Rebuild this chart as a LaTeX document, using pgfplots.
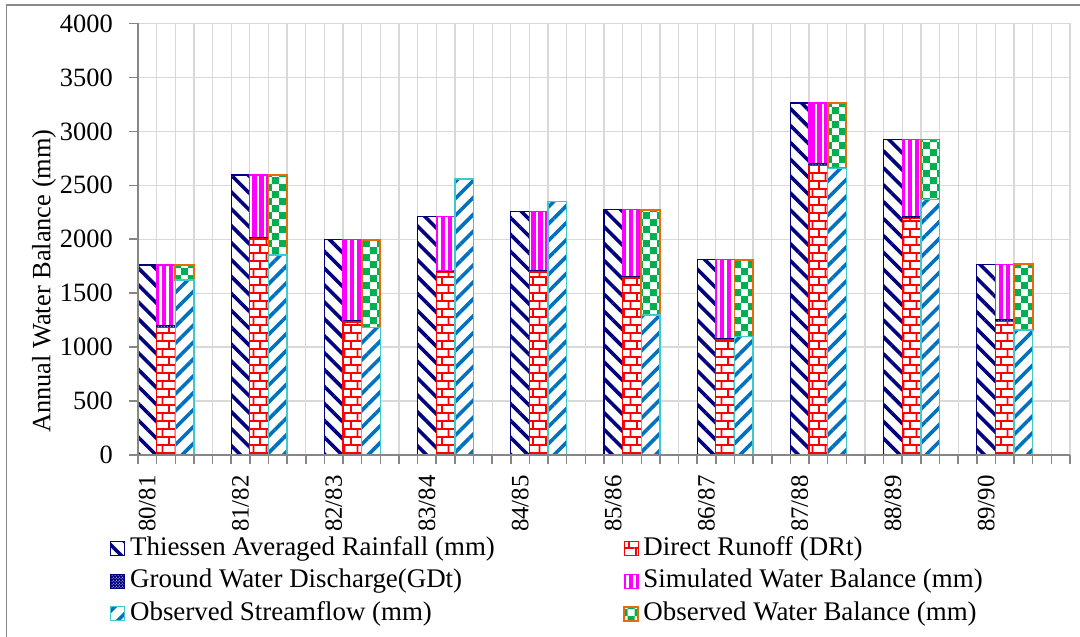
\documentclass[border=0pt]{standalone}
\usepackage{fontspec}
\setmainfont{Liberation Serif}
\usepackage{pgfplots}
\pgfplotsset{compat=1.18}
\usetikzlibrary{patterns,patterns.meta}

\definecolor{rainnavy}{RGB}{0,0,128}
\definecolor{drred}{RGB}{255,0,0}
\definecolor{swbmag}{RGB}{255,0,255}
\definecolor{obsblue}{RGB}{0,112,192}
\definecolor{obsturq}{RGB}{64,200,204}
\definecolor{owbgreen}{RGB}{0,176,80}
\definecolor{owborange}{RGB}{228,108,10}
\definecolor{gridgray}{RGB}{217,217,217}
\definecolor{axisgray}{RGB}{134,134,134}
\definecolor{bordergray}{RGB}{137,137,137}

\pgfdeclarepatternformonly{bigbricks}{\pgfqpoint{0pt}{0pt}}{\pgfqpoint{13pt}{16pt}}{\pgfqpoint{13pt}{16pt}}{%
  \pgfsetlinewidth{1.8pt}%
  \pgfpathmoveto{\pgfqpoint{0pt}{1pt}}\pgfpathlineto{\pgfqpoint{13pt}{1pt}}%
  \pgfpathmoveto{\pgfqpoint{0pt}{9pt}}\pgfpathlineto{\pgfqpoint{13pt}{9pt}}%
  \pgfpathmoveto{\pgfqpoint{1pt}{1pt}}\pgfpathlineto{\pgfqpoint{1pt}{9pt}}%
  \pgfpathmoveto{\pgfqpoint{7.5pt}{9pt}}\pgfpathlineto{\pgfqpoint{7.5pt}{16pt}}%
  \pgfusepath{stroke}}

\pgfdeclarepatternformonly{bigchecker}{\pgfqpoint{0pt}{0pt}}{\pgfqpoint{14pt}{14pt}}{\pgfqpoint{14pt}{14pt}}{%
  \pgfpathrectangle{\pgfqpoint{0pt}{0pt}}{\pgfqpoint{7pt}{7pt}}%
  \pgfpathrectangle{\pgfqpoint{7pt}{7pt}}{\pgfqpoint{7pt}{7pt}}%
  \pgfusepath{fill}}

\tikzset{
  rainsty/.style={draw=rainnavy, line width=1.3bp, preaction={fill=white},
    pattern={Lines[angle=-45,distance=12pt,line width=3.6pt]}, pattern color=rainnavy},
  drsty/.style={draw=drred, line width=1.3bp, preaction={fill=white},
    pattern=bigbricks, pattern color=drred},
  gdsty/.style={draw=rainnavy, line width=1bp, preaction={fill=rainnavy},
    pattern=crosshatch dots, pattern color=white},
  swbsty/.style={draw=swbmag, line width=1.3bp, preaction={fill=swbmag},
    pattern={Lines[angle=90,distance=7pt,line width=2.6pt]}, pattern color=white},
  obssty/.style={draw=obsturq, line width=1.3bp, preaction={fill=white},
    pattern={Lines[angle=45,distance=12pt,line width=3.6pt]}, pattern color=obsblue},
  owbsty/.style={draw=owborange, line width=1.8bp, preaction={fill=white},
    pattern=bigchecker, pattern color=owbgreen},
}

\pgfplotsset{
  base/.style={at={(138bp,182bp)}, anchor=south west, scale only axis,
    width=932bp, height=431.5bp, xmin=-0.5, xmax=49.5, ymin=0, ymax=4000},
}

\begin{document}
\begin{tikzpicture}
\path[use as bounding box] (0,0) rectangle (1080bp,637bp);
\draw[bordergray, line width=1.5bp] (6.5bp,-20bp) -- (6.5bp,632bp) -- (1100bp,632bp);

% grid, rainfall and legend
\begin{axis}[base,
  xtick={-0.5,0.5,...,49.5}, ytick={0,500,...,4000},
  xticklabel={\relax}, yticklabel={\relax},
  grid=major, grid style={gridgray, line width=1.3bp},
  axis line style={draw=none}, tick style={draw=none}, major tick length=0pt,
  legend columns=2, legend cell align=left,
  legend image code/.code={\draw[#1] (0bp,-7bp) rectangle (14bp,7bp);},
  legend style={at={(axis description cs:-0.0318,-0.1877)}, anchor=north west,
    draw=none, fill=none, inner sep=0pt,
    font=\fontsize{27}{31}\selectfont,
    nodes={inner sep=0pt, text height=19bp, text depth=6bp},
    column sep=4bp, row sep=7.5bp,
    /tikz/every even column/.append style={column sep=128bp}},
]
\addplot[ybar, bar width=1, bar shift=0pt, rainsty, forget plot] coordinates {
  (0,1761) (5,2595) (10,1996) (15,2212) (20,2255)
  (25,2274) (30,1810) (35,3262) (40,2925) (45,1767)};
\addlegendimage{rainsty}\addlegendentry{Thiessen Averaged Rainfall (mm)}
\addlegendimage{drsty}\addlegendentry{Direct Runoff (DRt)}
\addlegendimage{gdsty}\addlegendentry{Ground Water Discharge(GDt)}
\addlegendimage{swbsty}\addlegendentry{Simulated Water Balance (mm)}
\addlegendimage{obssty}\addlegendentry{Observed Streamflow (mm)}
\addlegendimage{owbsty}\addlegendentry{Observed Water Balance (mm)}
\end{axis}

% simulated stack
\begin{axis}[base, hide axis, ybar stacked, bar width=1]
\addplot[drsty] coordinates {
  (1,1182) (6,2003) (11,1232) (16,1690) (21,1695)
  (26,1640) (31,1068) (36,2685) (41,2195) (46,1238)};
\addplot[gdsty] coordinates {
  (1,15) (6,15) (11,15) (16,15) (21,15)
  (26,15) (31,15) (36,15) (41,15) (46,15)};
\addplot[swbsty] coordinates {
  (1,564) (6,577) (11,749) (16,507) (21,545)
  (26,619) (31,727) (36,562) (41,715) (46,514)};
\end{axis}

% observed stack
\begin{axis}[base, hide axis, ybar stacked, bar width=1]
\addplot[obssty] coordinates {
  (2,1622) (7,1853) (12,1180) (17,2558) (22,2348)
  (27,1297) (32,1097) (37,2657) (42,2369) (47,1158)};
\addplot[owbsty] coordinates {
  (2,139) (7,742) (12,816) (17,0) (22,0)
  (27,977) (32,713) (37,605) (42,556) (47,609)};
\end{axis}

% axis lines, ticks, labels
\begin{axis}[base,
  axis x line=bottom, axis y line=left,
  axis line style={-, draw=axisgray, line width=1.5bp},
  xtick={0,5,...,45},
  xticklabels={80/81,81/82,82/83,83/84,84/85,85/86,86/87,87/88,88/89,89/90},
  minor xtick={-0.5,0.5,...,49.5},
  ytick={0,500,...,4000}, minor ytick={0,500,...,4000},
  tick align=outside, major tick length=0pt, minor tick length=8.5bp,
  tick style={draw=axisgray, line width=1.5bp},
  tick label style={font=\fontsize{26.5}{30}\selectfont},
  xticklabel style={yshift=-20bp, rotate=90, anchor=east, inner sep=0pt,
    font=\fontsize{25}{30}\selectfont},
  yticklabel style={inner sep=0pt, xshift=-25bp},
  /pgf/number format/1000 sep={}, /pgf/number format/assume math mode=true,
  scaled y ticks=false,
  ylabel={Annual Water Balance (mm)},
  ylabel style={at={(axis description cs:-0.1009,0.403)}, anchor=center,
    font=\fontsize{26.5}{30}\selectfont},
]
\addplot[draw=none, forget plot] coordinates {(0,0)};
\end{axis}
\end{tikzpicture}
\end{document}
